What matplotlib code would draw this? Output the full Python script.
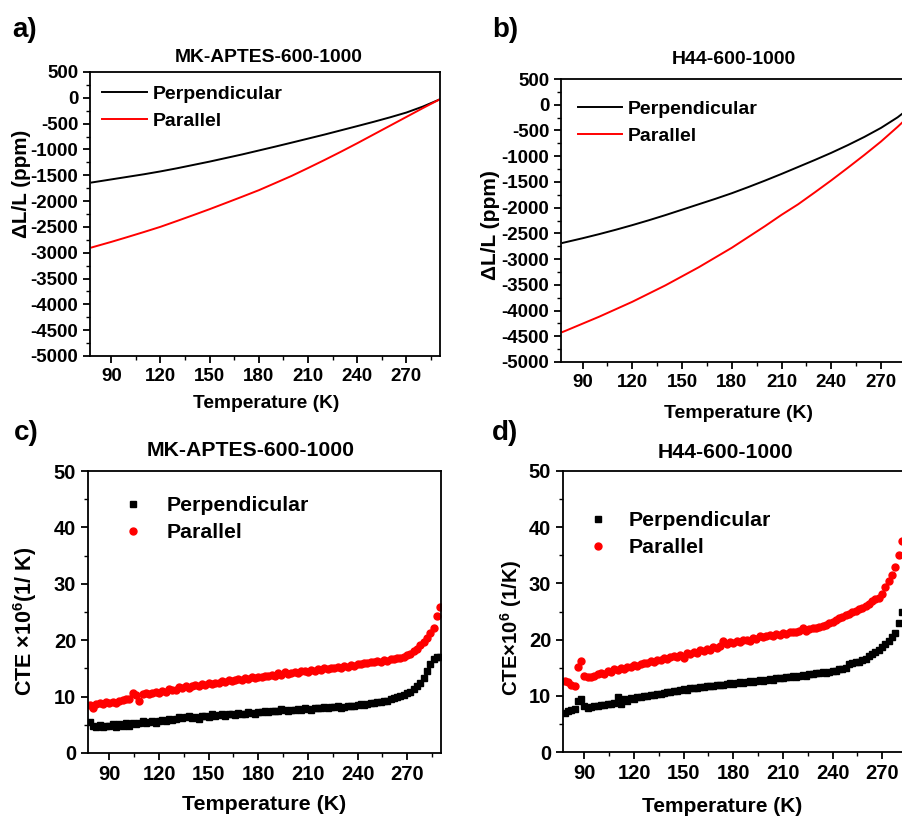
import matplotlib
matplotlib.use("Agg")
import matplotlib.pyplot as plt
from matplotlib.ticker import MultipleLocator

plt.rcParams['font.family'] = ['Liberation Sans', 'DejaVu Sans']
plt.rcParams['font.weight'] = 'bold'
plt.rcParams['mathtext.fontset'] = 'custom'
plt.rcParams['mathtext.bf'] = 'Liberation Sans:bold'
plt.rcParams['mathtext.rm'] = 'Liberation Sans:bold'
plt.rcParams['mathtext.default'] = 'bf'
plt.rcParams['axes.unicode_minus'] = False

# ---- a) dL/L, MK-APTES-600-1000 ----
temp_a = [78, 80, 90, 100, 110, 120, 130, 140, 150, 160, 170, 180,
          190, 200, 210, 220, 230, 240, 250, 260, 270, 280, 290]
perp_a = [-1640, -1630, -1580, -1530, -1480, -1425, -1365, -1300, -1235, -1165, -1095, -1020,
          -945, -868, -790, -712, -630, -548, -465, -378, -285, -170, -35]
para_a = [-2898, -2880, -2790, -2695, -2598, -2498, -2386, -2272, -2156, -2035, -1913, -1789,
          -1651, -1512, -1360, -1205, -1045, -880, -710, -540, -370, -200, -35]

# ---- b) dL/L, H44-600-1000 ----
temp_b = [78, 80, 90, 100, 110, 120, 130, 140, 150, 160, 170, 180,
          190, 200, 210, 220, 230, 240, 250, 260, 270, 280, 283]
perp_b = [-2685, -2670, -2595, -2515, -2430, -2340, -2245, -2145, -2040, -1935, -1830, -1720,
          -1600, -1475, -1345, -1210, -1075, -935, -785, -625, -450, -245, -170]
para_b = [-4416, -4390, -4255, -4120, -3975, -3830, -3670, -3510, -3335, -3160, -2970, -2780,
          -2570, -2360, -2140, -1935, -1705, -1470, -1225, -975, -715, -430, -340]

# ---- c) CTE, MK-APTES-600-1000 ----
temp_c = [78, 80, 82, 84, 86, 88, 90, 92, 94, 96,
          98, 100, 102, 104, 106, 108, 110, 112, 114, 116,
          118, 120, 122, 124, 126, 128, 130, 132, 134, 136,
          138, 140, 142, 144, 146, 148, 150, 152, 154, 156,
          158, 160, 162, 164, 166, 168, 170, 172, 174, 176,
          178, 180, 182, 184, 186, 188, 190, 192, 194, 196,
          198, 200, 202, 204, 206, 208, 210, 212, 214, 216,
          218, 220, 222, 224, 226, 228, 230, 232, 234, 236,
          238, 240, 242, 244, 246, 248, 250, 252, 254, 256,
          258, 260, 262, 264, 266, 268, 270, 272, 274, 276,
          278, 280, 282, 284, 286, 288, 290]
perp_c = [5.5, 4.7, 4.6, 5.0, 4.6, 4.8, 4.7, 5.1, 4.6, 5.2,
          4.7, 5.3, 4.8, 5.4, 5.2, 5.3, 5.6, 5.3, 5.5, 5.6,
          5.4, 5.7, 5.8, 5.6, 6.0, 5.8, 6.1, 6.4, 6.2, 6.3,
          6.5, 6.2, 6.4, 6.1, 6.6, 6.5, 6.4, 6.9, 6.6, 6.7,
          7.0, 6.6, 6.9, 7.0, 6.8, 7.1, 7.0, 6.9, 7.2, 7.1,
          7.0, 7.3, 7.2, 7.4, 7.3, 7.4, 7.5, 7.4, 7.8, 7.6,
          7.5, 7.7, 7.6, 7.8, 7.7, 7.9, 7.8, 7.7, 7.9, 8.0,
          7.9, 8.1, 8.0, 8.2, 8.1, 8.3, 7.9, 8.2, 8.3, 8.4,
          8.3, 8.5, 8.6, 8.5, 8.7, 8.8, 8.9, 9.0, 9.1, 9.2,
          9.3, 9.5, 9.7, 9.9, 10.1, 10.3, 10.6, 10.9, 11.3, 11.8,
          12.4, 13.3, 14.5, 15.8, 16.6, 17.1, 17.0]
para_c = [8.5, 8.0, 8.6, 8.9, 8.7, 9.0, 8.8, 9.1, 8.9, 9.3,
          9.4, 9.6, 9.5, 10.7, 10.3, 9.2, 10.5, 10.6, 10.4, 10.6,
          10.8, 10.7, 11.0, 10.9, 11.3, 11.1, 11.2, 11.7, 11.5, 11.9,
          11.6, 11.9, 12.1, 11.9, 12.2, 12.1, 12.4, 12.3, 12.5, 12.4,
          12.7, 12.6, 12.9, 12.8, 13.0, 13.1, 12.9, 13.3, 13.2, 13.4,
          13.3, 13.5, 13.4, 13.7, 13.6, 13.8, 13.7, 14.1, 13.9, 14.3,
          14.0, 14.2, 14.4, 14.2, 14.6, 14.5, 14.4, 14.7, 14.6, 14.9,
          14.8, 15.0, 14.9, 15.1, 15.0, 15.3, 15.1, 15.4, 15.3, 15.6,
          15.5, 15.7, 15.8, 16.0, 15.9, 16.2, 16.1, 16.3, 16.2, 16.5,
          16.4, 16.6, 16.7, 16.8, 16.9, 17.0, 17.3, 17.6, 18.0, 18.4,
          19.1, 19.7, 20.4, 21.2, 22.2, 24.3, 25.9]

# ---- d) CTE, H44-600-1000 ----
temp_d = [78, 80, 82, 84, 86, 88, 90, 92, 94, 96,
          98, 100, 102, 104, 106, 108, 110, 112, 114, 116,
          118, 120, 122, 124, 126, 128, 130, 132, 134, 136,
          138, 140, 142, 144, 146, 148, 150, 152, 154, 156,
          158, 160, 162, 164, 166, 168, 170, 172, 174, 176,
          178, 180, 182, 184, 186, 188, 190, 192, 194, 196,
          198, 200, 202, 204, 206, 208, 210, 212, 214, 216,
          218, 220, 222, 224, 226, 228, 230, 232, 234, 236,
          238, 240, 242, 244, 246, 248, 250, 252, 254, 256,
          258, 260, 262, 264, 266, 268, 270, 272, 274, 276,
          278, 280, 282]
perp_d = [7.0, 7.3, 7.5, 7.6, 9.1, 9.4, 8.1, 7.8, 8.0, 8.2,
          8.1, 8.4, 8.3, 8.6, 8.5, 8.8, 9.7, 8.5, 9.4, 9.1,
          9.6, 9.5, 9.8, 9.7, 10.0, 9.9, 10.2, 10.1, 10.4, 10.3,
          10.5, 10.7, 10.6, 10.9, 10.8, 11.0, 11.2, 11.1, 11.3, 11.4,
          11.3, 11.6, 11.5, 11.7, 11.8, 11.7, 11.9, 12.0, 11.9, 12.1,
          12.2, 12.1, 12.3, 12.4, 12.3, 12.5, 12.6, 12.5, 12.7, 12.8,
          12.7, 12.9, 13.0, 12.9, 13.1, 13.2, 13.1, 13.3, 13.4, 13.5,
          13.4, 13.6, 13.7, 13.6, 13.8, 13.9, 14.0, 14.1, 14.2, 14.1,
          14.3, 14.4, 14.5, 14.7, 14.8, 15.0, 15.6, 15.9, 16.0, 16.1,
          16.3, 16.6, 17.0, 17.4, 17.8, 18.1, 18.6, 19.2, 19.8, 20.5,
          21.2, 22.9, 25.0]
para_d = [12.6, 12.4, 12.0, 11.7, 15.2, 16.2, 13.5, 13.3, 13.4, 13.6,
          13.8, 14.0, 13.9, 14.4, 14.3, 14.7, 14.6, 15.0, 14.8, 15.2,
          15.1, 15.5, 15.3, 15.7, 15.9, 15.8, 16.2, 16.1, 16.4, 16.3,
          16.7, 16.6, 16.9, 17.0, 16.9, 17.3, 16.8, 17.6, 17.5, 17.8,
          17.7, 18.1, 18.0, 18.3, 18.2, 18.6, 18.5, 18.9, 19.8, 19.3,
          19.5, 19.4, 19.7, 19.6, 19.9, 20.0, 19.8, 20.2, 20.1, 20.6,
          20.4, 20.6, 20.8, 20.7, 21.0, 20.9, 21.1, 21.0, 21.3, 21.4,
          21.3, 21.6, 22.0, 21.5, 21.9, 22.1, 22.0, 22.3, 22.4, 22.6,
          22.9, 23.2, 23.5, 23.8, 24.0, 24.3, 24.5, 24.9, 25.1, 25.4,
          25.7, 26.0, 26.4, 26.8, 27.2, 27.4, 28.1, 29.3, 30.4, 31.5,
          32.9, 35.0, 37.6]

W, H = 902, 816
fig = plt.figure(figsize=(W / 100, H / 100), dpi=100)


def box(l, t, r, b):
    # pixel box -> figure fraction
    return [l / W, 1 - b / H, (r - l) / W, (b - t) / H]


def ftext(x, y, s, size, rot=0):
    fig.text(x / W, 1 - y / H, s, fontsize=size, fontweight='bold',
             ha='center', va='center', rotation=rot)


def style(ax, ylim, ymaj, ymin, tsize):
    ax.set_xlim(77, 290.5)
    ax.set_ylim(*ylim)
    ax.xaxis.set_major_locator(MultipleLocator(30))
    ax.xaxis.set_minor_locator(MultipleLocator(15))
    ax.yaxis.set_major_locator(MultipleLocator(ymaj))
    ax.yaxis.set_minor_locator(MultipleLocator(ymin))
    ax.tick_params(which='major', direction='out', length=5, width=1.3,
                   labelsize=tsize, top=False, right=False)
    ax.tick_params(which='minor', direction='out', length=3, width=1.0,
                   top=False, right=False)
    for lab in ax.get_xticklabels() + ax.get_yticklabels():
        lab.set_fontweight('bold')
    for sp in ax.spines.values():
        sp.set_linewidth(1.3)


# a)
ax_a = fig.add_axes(box(90, 72, 440, 356))
ax_a.plot(temp_a, perp_a, color='black', lw=1.4, label='Perpendicular')
ax_a.plot(temp_a, para_a, color='red', lw=1.4, label='Parallel')
style(ax_a, (-5000, 500), 500, 250, 13.5)
ax_a.legend(loc='upper left', bbox_to_anchor=(0.034, 0.954), frameon=False,
            fontsize=14, handlelength=2.3, handletextpad=0.3, labelspacing=0.5,
            borderpad=0, borderaxespad=0)

# b)
ax_b = fig.add_axes(box(561, 79, 915, 362))
ax_b.plot(temp_b, perp_b, color='black', lw=1.4, label='Perpendicular')
ax_b.plot(temp_b, para_b, color='red', lw=1.4, label='Parallel')
style(ax_b, (-5000, 500), 500, 250, 13.5)
ax_b.legend(loc='upper left', bbox_to_anchor=(0.047, 0.925), frameon=False,
            fontsize=14, handlelength=2.3, handletextpad=0.3, labelspacing=0.5,
            borderpad=0, borderaxespad=0)

# c)
ax_c = fig.add_axes(box(88, 471, 441, 753))
ax_c.plot(temp_c, perp_c, ls='none', marker='s', ms=4.2, color='black', label='Perpendicular')
ax_c.plot(temp_c, para_c, ls='none', marker='o', ms=5.0, color='red', mec='red', label='Parallel')
style(ax_c, (0, 50), 10, 5, 14.5)
ax_c.legend(loc='upper left', bbox_to_anchor=(0.098, 0.911), frameon=False,
            fontsize=15.3, handlelength=1.0, handletextpad=1.05, labelspacing=0.38,
            borderpad=0, borderaxespad=0, numpoints=1)

# d)
ax_d = fig.add_axes(box(563, 471, 916, 752))
ax_d.plot(temp_d, perp_d, ls='none', marker='s', ms=4.2, color='black', label='Perpendicular')
ax_d.plot(temp_d, para_d, ls='none', marker='o', ms=5.0, color='red', mec='red', label='Parallel')
style(ax_d, (0, 50), 10, 5, 14.5)
ax_d.legend(loc='upper left', bbox_to_anchor=(0.069, 0.857), frameon=False,
            fontsize=15.3, handlelength=1.0, handletextpad=0.96, labelspacing=0.38,
            borderpad=0, borderaxespad=0, numpoints=1)

# panel letters
ftext(25, 30, 'a)', 20)
ftext(505, 30, 'b)', 20)
ftext(26, 433, 'c)', 20)
ftext(505, 433, 'd)', 20)

# titles
ftext(269, 58, 'MK-APTES-600-1000', 13.9)
ftext(734, 60, 'H44-600-1000', 14)
ftext(251, 450, 'MK-APTES-600-1000', 15.3)
ftext(725, 453, 'H44-600-1000', 15.2)

# axis labels
ftext(22, 184, '\u0394L/L (ppm)', 14.9, rot=90)
ftext(490, 225, '\u0394L/L (ppm)', 15, rot=90)
ftext(266, 403, 'Temperature (K)', 13.8)
ftext(738, 414, 'Temperature (K)', 14)
ftext(25, 621, 'CTE \u00d710$^{6}$(1/ K)', 15.5, rot=90)
ftext(511, 628, 'CTE\u00d710$^{6}$ (1/K)', 14.7, rot=90)
ftext(264, 805, 'Temperature (K)', 15.4)
ftext(722, 806, 'Temperature (K)', 15)

fig.savefig('out.png', dpi=100)
